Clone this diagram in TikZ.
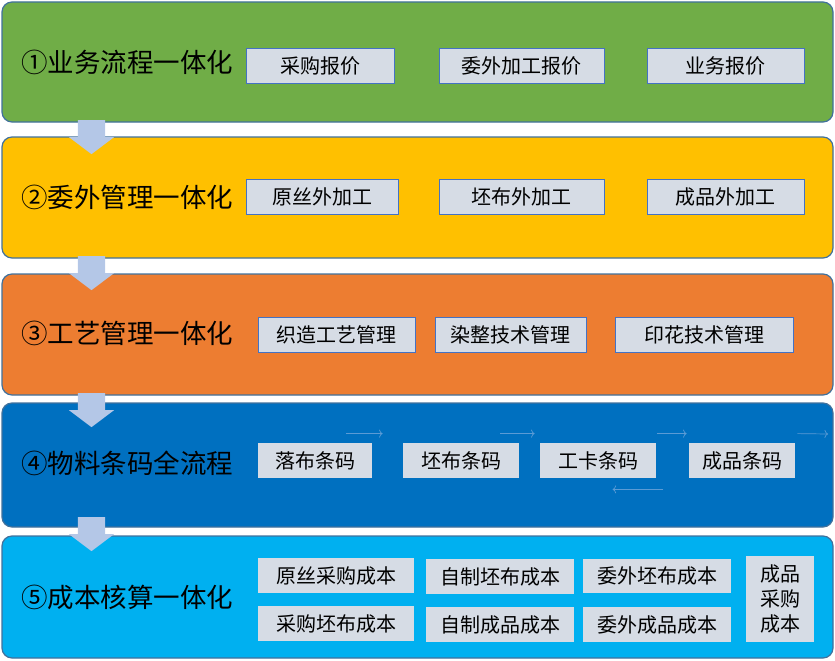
\documentclass[tikz,border=0pt]{standalone}
\usepackage{fontspec}
\setmainfont{Noto Sans CJK SC}
\usetikzlibrary{shapes.arrows, arrows.meta}
\definecolor{bandone}{HTML}{70AD47}
\definecolor{bandtwo}{HTML}{FFC000}
\definecolor{bandthree}{HTML}{ED7D31}
\definecolor{bandfour}{HTML}{0070C0}
\definecolor{bandfive}{HTML}{00B0F0}
\definecolor{bandline}{HTML}{41719C}
\definecolor{boxfill}{HTML}{D6DCE5}
\definecolor{boxline}{HTML}{4472C4}
\definecolor{arrowfill}{HTML}{B4C7E7}
\definecolor{linkblue}{HTML}{5B9BD5}

\begin{document}
\begin{tikzpicture}[x=1pt, y=-1pt]
	\tikzstyle{band}=[draw=bandline, line width=1.2pt, rounded corners=10pt, minimum width=831pt]
	\tikzstyle{title}=[anchor=west, inner sep=0pt, font=\fontsize{26.5}{30}\selectfont]
	\tikzstyle{box}=[fill=boxfill, draw=boxline, line width=0.8pt, inner sep=0pt, minimum height=35pt, align=center, font=\fontsize{20}{25}\selectfont]
	\tikzstyle{flat}=[box, draw=none]
	\tikzstyle{down}=[single arrow, fill=arrowfill, rotate=-90, inner xsep=0pt, inner ysep=13.5pt, minimum height=34pt, single arrow head extend=9pt, single arrow tip angle=106]
	\tikzstyle{link}=[draw=linkblue, line width=0.7pt, -{To[length=3.5pt, width=8pt]}]
	\useasboundingbox (0,0) rectangle (835,661);
	% bands
	\node[band, fill=bandone, minimum height=120pt] (b1) at (417.5, 62) {};
	\node[band, fill=bandtwo, minimum height=121pt] (b2) at (417.5, 197.5) {};
	\node[band, fill=bandthree, minimum height=121pt] (b3) at (417.5, 334.5) {};
	\node[band, fill=bandfour, minimum height=124pt] (b4) at (417.5, 465) {};
	\node[band, fill=bandfive, minimum height=122pt] (b5) at (417.5, 597) {};
	\node[title] (t1) at (21, 62) {①业务流程一体化};
	\node[title] (t2) at (21, 197) {②委外管理一体化};
	\node[title] (t3) at (21, 333) {③工艺管理一体化};
	\node[title] (t4) at (21, 463) {④物料条码全流程};
	\node[title] (t5) at (21, 597) {⑤成本核算一体化};
	% band 1
	\node[box, minimum width=148pt] (cgbj) at (320, 66) {采购报价};
	\node[box, minimum width=165pt] (wwbj) at (521.5, 66) {委外加工报价};
	\node[box, minimum width=157pt] (ywbj) at (725.5, 66) {业务报价};
	% band 2
	\node[box, minimum width=152pt] (ysjg) at (322.5, 197) {原丝外加工};
	\node[box, minimum width=165pt] (pbjg) at (521.5, 197) {坯布外加工};
	\node[box, minimum width=157pt] (cpjg) at (725.5, 197) {成品外加工};
	% band 3
	\node[box, minimum width=157pt] (zzgy) at (336.5, 334.5) {织造工艺管理};
	\node[box, minimum width=151pt] (rzjs) at (510.5, 334.5) {染整技术管理};
	\node[box, minimum width=178pt] (yhjs) at (704, 334.5) {印花技术管理};
	% band 4
	\node[flat, minimum width=114pt] (lb) at (315, 460.5) {落布条码};
	\node[flat, minimum width=116pt] (pb) at (461, 460.5) {坯布条码};
	\node[flat, minimum width=116pt] (gk) at (598, 460.5) {工卡条码};
	\node[flat, minimum width=106pt] (cp) at (742, 460.5) {成品条码};
	\coordinate (edge) at (828, 434);
	\draw[link] ([shift={(-26,-9)}]lb.north east) -- ([shift={(-20,-9)}]pb.north west);
	\draw[link] ([shift={(-19,-9)}]pb.north east) -- ([shift={(-5,-9)}]gk.north west);
	\draw[link] ([shift={(1,-9)}]gk.north east) -- ([shift={(-2,-9)}]cp.north west);
	\draw[link] ([shift={(2,-9)}]cp.north east) -- (edge);
	\draw[link] ([shift={(7,11)}]gk.south east) -- ([shift={(73,11)}]gk.south west);
	% band 5
	\node[flat, minimum width=156pt] (yscg) at (336, 575.5) {原丝采购成本};
	\node[flat, minimum width=156pt] (cgpb) at (336, 623.5) {采购坯布成本};
	\node[flat, minimum width=148pt] (zzpb) at (500, 576.5) {自制坯布成本};
	\node[flat, minimum width=148pt] (zzcp) at (500, 624.5) {自制成品成本};
	\node[flat, minimum width=148pt, minimum height=34pt] (wwpb) at (657, 576) {委外坯布成本};
	\node[flat, minimum width=148pt] (wwcp) at (657, 624.5) {委外成品成本};
	\node[flat, minimum width=68pt, minimum height=86pt] (cpcg) at (780, 599) {成品\\采购\\成本};
	% arrows between bands
	\node[down] (a1) at (91.5, 132) {};
	\node[down] (a2) at (91.5, 268) {};
	\node[down] (a3) at (91.5, 405) {};
	\node[down] (a4) at (91.5, 529) {};
\end{tikzpicture}
\end{document}
